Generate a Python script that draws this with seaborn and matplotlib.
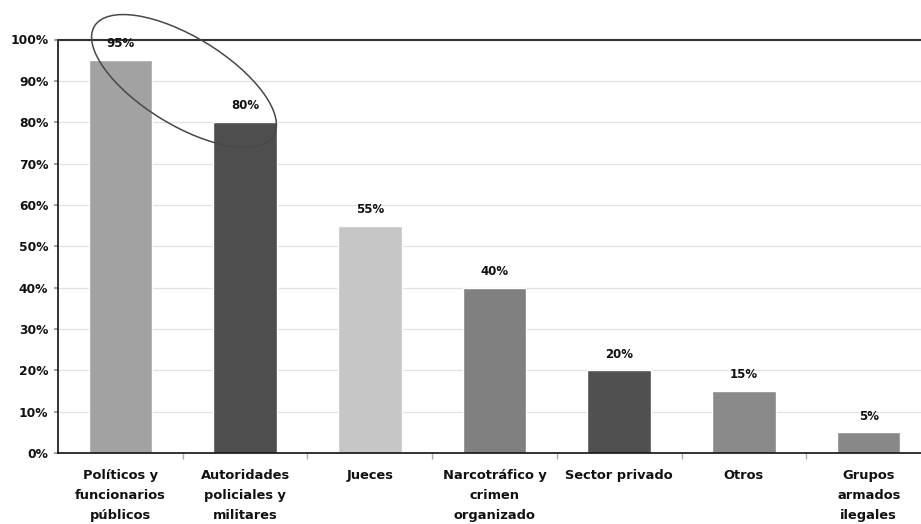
import matplotlib
matplotlib.use("Agg")
import matplotlib.pyplot as plt
import seaborn as sns
import pandas as pd
from matplotlib.patches import Ellipse
from matplotlib.transforms import Affine2D

categories = ["Políticos y\nfuncionarios\npúblicos",
              "Autoridades\npoliciales y\nmilitares",
              "Jueces",
              "Narcotráfico y\ncrimen\norganizado",
              "Sector privado",
              "Otros",
              "Grupos\narmados\nilegales"]
values = [95, 80, 55, 40, 20, 15, 5]
bar_colors = ["#a2a2a2", "#4e4e4e", "#c6c6c6", "#808080", "#505050", "#8a8a8a", "#888888"]
yticks = [0, 10, 20, 30, 40, 50, 60, 70, 80, 90, 100]

sns.set_theme(style="white")
plt.rcParams['font.family'] = ['DejaVu Sans']

W, H = 921, 524
fig = plt.figure(figsize=(W / 100, H / 100), dpi=100)
ax = fig.add_axes([58 / W, (H - 453) / H, 873 / W, (453 - 39.5) / H])

df = pd.DataFrame({"cat": categories, "val": values})
sns.barplot(data=df, x="cat", y="val", hue="cat", palette=bar_colors,
            legend=False, width=0.51, saturation=1, ax=ax)

ax.set_ylim(0, 100)
ax.set_xlim(-0.5, len(categories) - 0.5)
ax.set_yticks(yticks)
ax.set_yticklabels([f"{t}%" for t in yticks], fontsize=8.8, fontweight="bold", color="#111111")
ax.set_xlabel("")
ax.set_ylabel("")
for lab in ax.get_xticklabels():
    lab.set_fontsize(9.4)
    lab.set_fontweight("bold")
    lab.set_color("#111111")
    lab.set_linespacing(1.68)
    lab.set_verticalalignment("top")

ax.yaxis.grid(True, color="#e2e2e2", linewidth=0.9)
ax.set_axisbelow(True)
for s in ["left", "bottom"]:
    ax.spines[s].set_color("#111111")
    ax.spines[s].set_linewidth(1.2)
ax.spines["top"].set_color("#333333")
ax.spines["top"].set_linewidth(1.5)
ax.spines["right"].set_visible(False)

ax.tick_params(axis="x", which="major", length=0, pad=11.5)
ax.tick_params(axis="y", which="major", length=3, color="#999999", pad=4, left=True)
ax.set_xticks([i + 0.5 for i in range(len(categories) - 1)], minor=True)
ax.tick_params(axis="x", which="minor", length=4, color="#aaaaaa", bottom=True)

for i, v in enumerate(values):
    ax.annotate(f"{v}%", (i, v), xytext=(0, 7), textcoords="offset points",
                ha="center", va="bottom", fontsize=8.5, fontweight="bold", color="#111111")

# hand-drawn ellipse around the first two bars (pixel coordinates)
pix = Affine2D().scale(1 / W, 1 / H) + fig.transFigure
ell = Ellipse((184, H - 81), width=210, height=88, angle=-31.5,
              fill=False, edgecolor="#484848", linewidth=1.1, transform=pix, clip_on=False)
fig.add_artist(ell)

fig.savefig("out.png", dpi=100)
